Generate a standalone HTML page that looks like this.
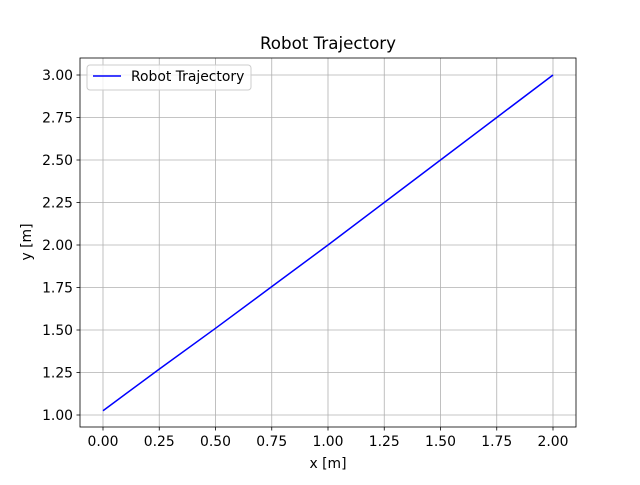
<!DOCTYPE html>
<html><head><meta charset="utf-8"><style>
body{margin:0;background:#fff;}
svg text{font-family:"DejaVu Sans","Liberation Sans",sans-serif;}
</style></head><body>
<svg id="chart" width="640" height="480" viewBox="0 0 640 480">
<rect width="640" height="480" fill="#fff"/>
<text x="328" y="49" text-anchor="middle" font-size="16.7" fill="#000">Robot Trajectory</text>
<g id="grid"></g>
<g id="ticks"></g>
<polyline id="line" fill="none" stroke="#0000ff" stroke-width="1.5"/>
<rect x="80" y="58" width="496" height="369" fill="none" stroke="#000" stroke-width="0.8"/>
<text x="328" y="468" text-anchor="middle" font-size="13.9">x [m]</text>
<text transform="translate(31,242) rotate(-90)" text-anchor="middle" font-size="13.9">y [m]</text>
<g>
<rect x="87" y="65" width="164" height="25" rx="3" fill="#fff" fill-opacity="0.8" stroke="#ccc"/>
<line x1="93" y1="76" x2="121" y2="76" stroke="#0000ff" stroke-width="1.5"/>
<text x="131" y="81" font-size="13.9">Robot Trajectory</text>
</g>
</svg>
<script>
const xs=[0,0.25,0.5,0.75,1.0,1.25,1.5,1.75,2.0];
const ys=[1.025,1.27,1.51,1.755,2.0,2.25,2.5,2.75,3.0];
const xTicks=[0,0.25,0.5,0.75,1.0,1.25,1.5,1.75,2.0];
const yTicks=[1.0,1.25,1.5,1.75,2.0,2.25,2.5,2.75,3.0];
const X=v=>103+v*225, Y=v=>415-(v-1)*170;
const NS="http://www.w3.org/2000/svg";
const grid=document.getElementById('grid'), ticks=document.getElementById('ticks');
function mk(tag,attrs,parent,txt){const e=document.createElementNS(NS,tag);for(const k in attrs)e.setAttribute(k,attrs[k]);if(txt!==undefined)e.textContent=txt;parent.appendChild(e);return e;}
xTicks.forEach(t=>{const x=X(t);
 const g=mk('line',{x1:x,x2:x,y1:58,y2:427,stroke:'#b0b0b0','stroke-width':0.8},grid);
 
 
 const tk=mk('line',{x1:x,x2:x,y1:427,y2:430.5,stroke:'#000','stroke-width':0.8},ticks);
 
 
 const l=mk('text',{x:x,y:446,'text-anchor':'middle','font-size':13.9},ticks,t.toFixed(2));
 
 
});
yTicks.forEach(t=>{const y=Y(t);
 const g=mk('line',{x1:80,x2:576,y1:y,y2:y,stroke:'#b0b0b0','stroke-width':0.8},grid);
 
 
 const tk=mk('line',{x1:76.5,x2:80,y1:y,y2:y,stroke:'#000','stroke-width':0.8},ticks);
 
 
 const l=mk('text',{x:73,y:y+5,'text-anchor':'end','font-size':13.9},ticks,t.toFixed(2));
 
 
});
document.getElementById('line').setAttribute('points',xs.map((v,i)=>X(v)+','+Y(ys[i])).join(' '));
</script>
</body></html>
